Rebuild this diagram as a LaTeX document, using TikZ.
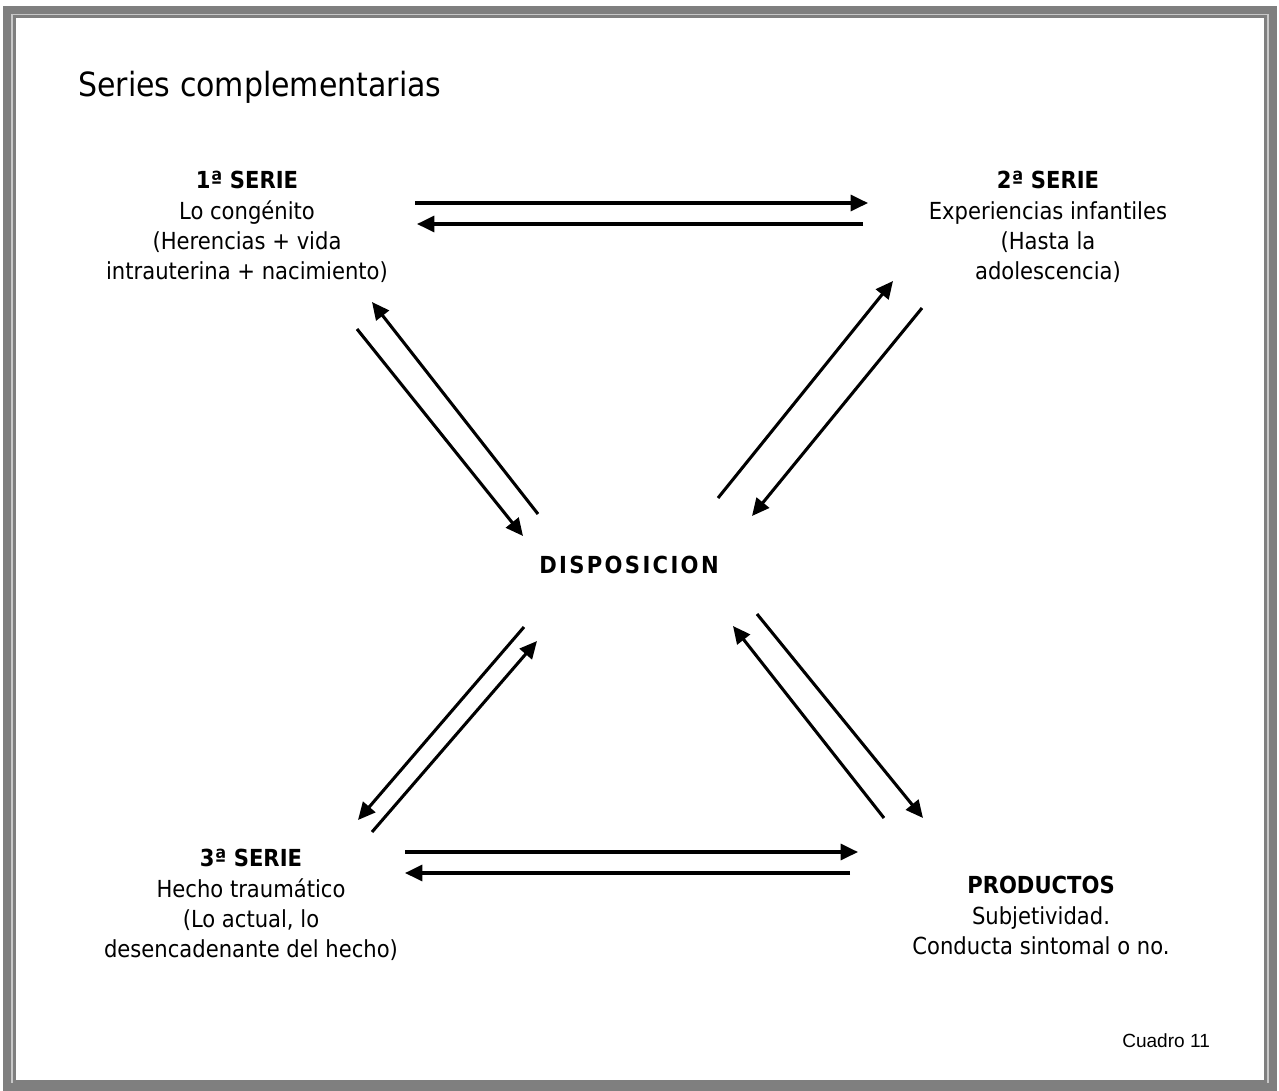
\documentclass[tikz,border=0pt]{standalone}
\usepackage{fontspec}
\setmainfont{DejaVu Sans Condensed}
\newfontfamily\arialf{Liberation Sans}
\newfontfamily\dispf[LetterSpace=10]{DejaVu Sans Condensed Bold}
\usetikzlibrary{arrows.meta}
\definecolor{framedark}{HTML}{7F7F7F}
\definecolor{framelight}{HTML}{C8C8C8}
\tikzset{
  arr/.style={line width=2.3pt, -{Triangle[length=13pt,width=12pt]}},
  serie/.style={anchor=north, inner sep=0pt, align=center,
    font=\fontsize{17.6pt}{22.8pt}\selectfont}
}
\begin{document}
\begin{tikzpicture}[x=0.75pt,y=-0.75pt]
                \useasboundingbox (0,0) rectangle (1279,1090);
                % marco
                \fill[framelight] (3,6) rectangle (1277,1090);
                \draw[framedark, line width=6pt] (7,10) rectangle (1273,1087);
                \fill[white] (16,18) rectangle (1264,1080);
                \draw[framedark, line width=1.9pt] (14.5,16.5) rectangle (1265.5,1081.5);
                % textos
                \node [anchor=base west, inner sep=0pt, font=\fontsize{25pt}{30pt}\selectfont] (tit) at (78,96) {Series complementarias};
                \node [serie] (s1) at (247,171) {\textbf{1ª SERIE}\\Lo congénito\\(Herencias + vida\\intrauterina + nacimiento)};
                \node [serie] (s2) at (1048,171) {\textbf{2ª SERIE}\\Experiencias infantiles\\(Hasta la\\adolescencia)};
                \node [serie] (s3) at (251,849) {\textbf{3ª SERIE}\\Hecho traumático\\(Lo actual, lo\\desencadenante del hecho)};
                \node [serie] (prod) at (1041,876) {\textbf{PRODUCTOS}\\Subjetividad.\\Conducta sintomal o no.};
                \node [inner sep=0pt, font=\dispf\fontsize{17.6pt}{20pt}\selectfont] (disp) at (629,565) {DISPOSICION};
                \node [anchor=base west, inner sep=0pt, font=\arialf\fontsize{14.3pt}{17pt}\selectfont] (cuad) at (1122,1047) {Cuadro 11};
                % extremos de las flechas
                \coordinate (a1) at (415,203); \coordinate (a2) at (868,203);
                \coordinate (a3) at (863,224); \coordinate (a4) at (417,224);
                \coordinate (b1) at (357,329); \coordinate (b2) at (523,536);
                \coordinate (b3) at (538,514); \coordinate (b4) at (372,302);
                \coordinate (c1) at (718,498); \coordinate (c2) at (893,281);
                \coordinate (c3) at (922,308); \coordinate (c4) at (752,516);
                \coordinate (d1) at (524,627); \coordinate (d2) at (358,820);
                \coordinate (d3) at (372,832); \coordinate (d4) at (537,641);
                \coordinate (e1) at (884,818); \coordinate (e2) at (733,626);
                \coordinate (e3) at (757,614); \coordinate (e4) at (923,818);
                \coordinate (f1) at (405,852); \coordinate (f2) at (858,852);
                \coordinate (f3) at (850,873); \coordinate (f4) at (405,873);
                % flechas
                \foreach \p in {a,b,c,d,e,f} {
                    \draw [arr] (\p1) -- (\p2);
                    \draw [arr] (\p3) -- (\p4);
                }
            \end{tikzpicture}
\end{document}
